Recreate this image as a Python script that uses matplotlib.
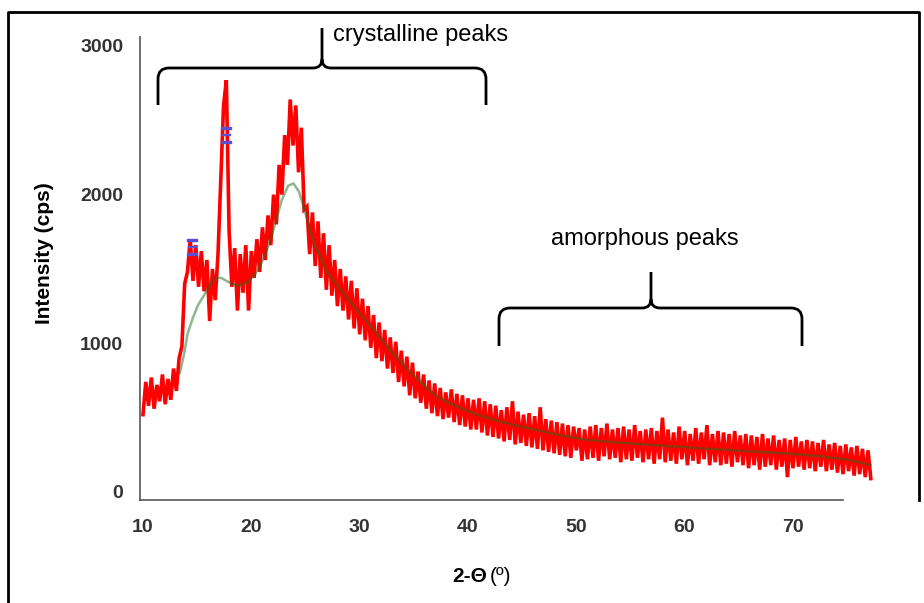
import numpy as np
import matplotlib
matplotlib.use("Agg")
from matplotlib import pyplot as plt
from matplotlib.path import Path
from matplotlib.patches import PathPatch
from matplotlib.lines import Line2D

# 2-theta scan (cps)
two_theta = np.linspace(10.0, 77.2, 263)
intensity = [
    520, 740, 580, 770, 560, 720, 610, 790, 590, 760,
    620, 830, 680, 900, 980, 1400, 1480, 1700, 1420, 1660,
    1380, 1620, 1350, 1560, 1150, 1500, 1290, 1600, 2100, 2600,
    2770, 1750, 1380, 1640, 1220, 1600, 1340, 1660, 1220, 1620,
    1440, 1700, 1480, 1780, 1560, 1860, 1660, 2000, 1800, 2200,
    2000, 2400, 2200, 2640, 2330, 2600, 2150, 2450, 1900, 1920,
    1600, 1880, 1520, 1820, 1440, 1740, 1360, 1660, 1320, 1560,
    1250, 1500, 1220, 1450, 1160, 1420, 1100, 1370, 1060, 1300,
    1020, 1250, 970, 1190, 900, 1140, 880, 1090, 830, 1040,
    800, 1010, 740, 950, 710, 910, 650, 870, 630, 810,
    600, 790, 560, 750, 530, 730, 510, 700, 490, 670,
    500, 690, 470, 660, 450, 650, 440, 630, 420, 620,
    420, 630, 400, 610, 380, 590, 370, 580, 360, 550,
    340, 570, 350, 610, 320, 540, 330, 520, 310, 530,
    300, 510, 290, 570, 280, 490, 270, 480, 260, 470,
    250, 460, 240, 450, 230, 440, 280, 430, 210, 420,
    220, 440, 230, 450, 210, 430, 240, 460, 220, 420,
    230, 430, 200, 440, 220, 420, 210, 450, 230, 410,
    200, 420, 220, 430, 190, 410, 220, 500, 200, 420,
    210, 400, 190, 440, 220, 410, 180, 390, 210, 430,
    190, 400, 220, 450, 180, 390, 200, 410, 180, 400,
    190, 390, 170, 410, 200, 380, 180, 390, 160, 380,
    180, 370, 150, 390, 170, 360, 180, 380, 150, 350,
    170, 360, 100, 350, 160, 370, 170, 340, 150, 350,
    160, 340, 140, 330, 170, 350, 140, 320, 150, 330,
    130, 310, 120, 320, 140, 300, 110, 310, 120, 290,
    100, 280, 90]

# amorphous background fit (green)
fit_x = [13.4, 13.8, 14.1, 14.6, 15.1, 15.7, 16.2, 16.7, 17.2, 17.7, 18.2, 18.7,
         19.2, 19.8, 20.3, 20.8, 21.3, 21.8, 22.3, 22.8, 23.4, 23.9, 24.4, 24.9,
         25.4, 25.9, 26.9, 28.0, 29.0, 30.0, 31.1, 32.1, 33.1, 34.1, 35.2, 36.2,
         37.2, 38.2, 39.3, 40.8, 42.9, 44.9, 47.0, 49.0, 51.1, 54.2, 57.2, 60.3,
         63.4, 66.5, 69.6, 72.6, 75.2, 77.2]
fit_y = [800, 930, 1060, 1170, 1260, 1330, 1400, 1440, 1440, 1420, 1400, 1390,
         1395, 1420, 1460, 1520, 1600, 1700, 1830, 1960, 2060, 2075, 2020, 1900,
         1770, 1660, 1490, 1380, 1290, 1200, 1110, 1020, 930, 850, 770, 700,
         640, 600, 565, 520, 475, 440, 405, 375, 350, 330, 315, 300,
         285, 272, 258, 240, 215, 180]

# picked peaks
peak_x = [14.5, 17.7]
peak_y = [1648, 2400]

W, H = 924, 603
fig = plt.figure(figsize=(W / 100, H / 100), dpi=100)
plt.rcParams['font.family'] = ['Liberation Sans', 'DejaVu Sans']

def fx(px):
    return px / W

def fy(py):
    return 1 - py / H

ax = fig.add_axes([fx(140), fy(500), 740 / W, 463 / H])
ax.plot(two_theta, intensity, color='#ff0000', lw=2.6, solid_joinstyle='miter',
        zorder=2)
ax.plot(fit_x, fit_y, color='#1f6f1f', lw=1.8, alpha=0.5, zorder=3)
ax.plot(peak_x, peak_y, linestyle='none', marker=r'$\Xi$', markersize=11,
        color='#5a4fd0', zorder=4)

ax.set_xlim(9.723, 78.05)
ax.set_ylim(-54, 3060)
ax.spines['top'].set_visible(False)
ax.spines['right'].set_visible(False)
for s in ['left', 'bottom']:
    ax.spines[s].set_color('#555555')
    ax.spines[s].set_linewidth(1.2)
ax.spines['bottom'].set_bounds(9.723, 74.64)
ax.set_xticks([10, 20, 30, 40, 50, 60, 70])
ax.set_yticks([0, 1000, 2000, 3000])
ax.tick_params(length=0, labelsize=14, labelcolor='#333333')
ax.tick_params(axis='x', pad=14)
ax.tick_params(axis='y', pad=12)
for lab in ax.get_xticklabels() + ax.get_yticklabels():
    lab.set_fontweight('bold')

fig.text(fx(45), fy(253), 'Intensity (cps)', rotation=90, ha='center',
         va='center', fontsize=15, fontweight='bold')
fig.text(fx(487), fy(577), '2-Θ', ha='right', va='center', fontsize=15,
         fontweight='bold')
fig.text(fx(490), fy(577), '(º)', ha='left', va='center', fontsize=15)

fig.text(fx(333), fy(41), 'crystalline peaks', ha='left', va='baseline',
         fontsize=17)
fig.text(fx(645), fy(245), 'amorphous peaks', ha='center', va='baseline',
         fontsize=17)

def brace(x0, x1, xm, yh, yb, ytop, r=11, rc=9):
    pts = [(x0, yb), (x0, yh + r), (x0, yh), (x0 + r, yh),
           (xm - rc, yh), (xm, yh), (xm, yh - rc), (xm, ytop),
           (xm, yh - rc), (xm, yh), (xm + rc, yh),
           (x1 - r, yh), (x1, yh), (x1, yh + r), (x1, yb)]
    codes = [Path.MOVETO, Path.LINETO, Path.CURVE3, Path.CURVE3,
             Path.LINETO, Path.CURVE3, Path.CURVE3, Path.LINETO,
             Path.MOVETO, Path.CURVE3, Path.CURVE3,
             Path.LINETO, Path.CURVE3, Path.CURVE3, Path.LINETO]
    verts = [(fx(a), fy(b)) for a, b in pts]
    fig.add_artist(PathPatch(Path(verts, codes), fill=False, lw=2,
                             edgecolor='black', transform=fig.transFigure))

brace(158, 486, 322, 68, 105, 28)
brace(499, 802, 651, 308, 346, 272)

# frame of the screenshot: left, top and right edges
fig.add_artist(Line2D([fx(8), fx(8), fx(919), fx(919)],
                      [fy(603), fy(12), fy(12), fy(500)],
                      color='black', lw=2, transform=fig.transFigure))

fig.savefig('out.png', dpi=100)
